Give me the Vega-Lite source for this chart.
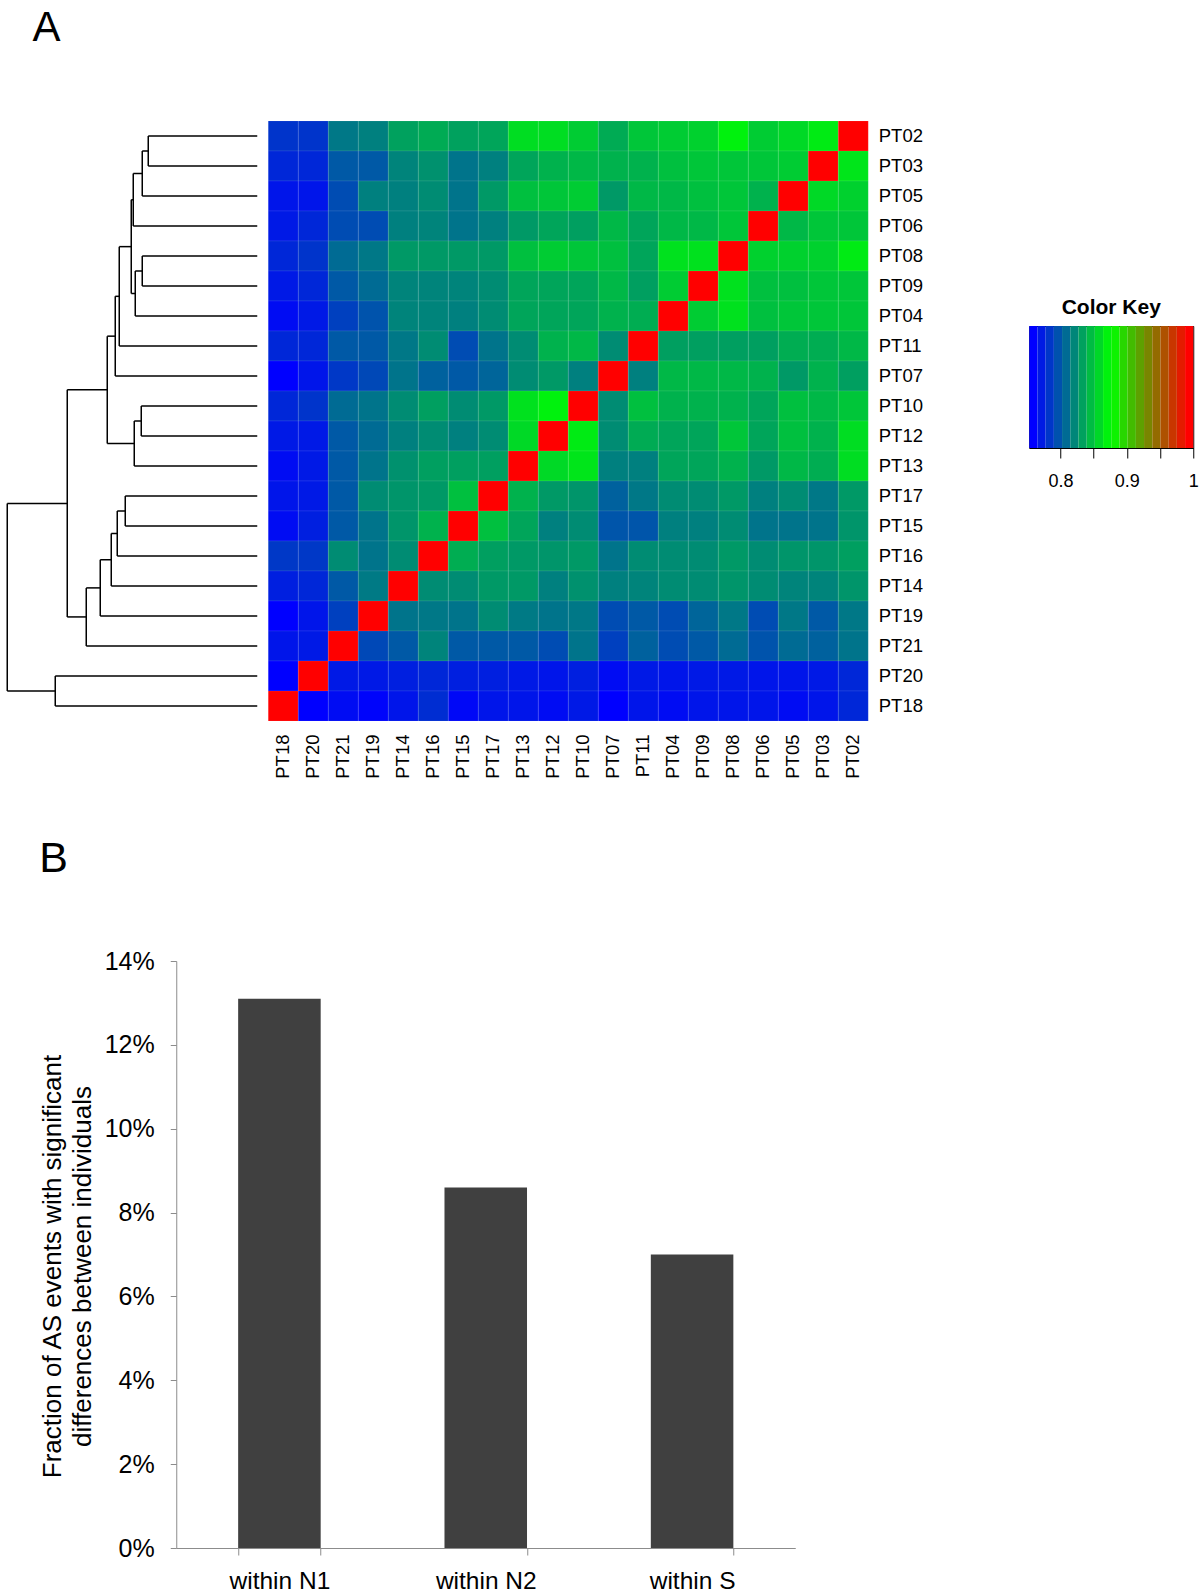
{
"$schema":"https://vega.github.io/schema/vega-lite/v6.json",
"padding":{"left":6.25,"top":6,"right":0,"bottom":0},
"background":"white",
"config":{"view":{"stroke":null},"font":"Liberation Sans","title":{"color":"black"},"axis":{"labelColor":"black","domainColor":"black","tickColor":"black","titleColor":"black"}},
"columns":1,
"align":"none",
"spacing":59,
"concat":[
{
"title":{"text":"A","anchor":"start","frame":"bounds","fontSize":42,"fontWeight":"normal","baseline":"top","offset":71,"dx":26},
"columns":2,
"align":"none",
"spacing":105,
"concat":[
{"columns":2,"align":"none","spacing":9,"concat":[
{
"width":81,"height":600,
"data":{"values":[
{"h1":109,"h2":109,"p1":0,"p2":1},{"h1":109,"h2":0,"p1":0,"p2":0},{"h1":109,"h2":0,"p1":1,"p2":1},
{"h1":115,"h2":115,"p1":0.5,"p2":2},{"h1":115,"h2":109,"p1":0.5,"p2":0.5},{"h1":115,"h2":0,"p1":2,"p2":2},
{"h1":124,"h2":124,"p1":1.25,"p2":3},{"h1":124,"h2":115,"p1":1.25,"p2":1.25},{"h1":124,"h2":0,"p1":3,"p2":3},
{"h1":115,"h2":115,"p1":4,"p2":5},{"h1":115,"h2":0,"p1":4,"p2":4},{"h1":115,"h2":0,"p1":5,"p2":5},
{"h1":122,"h2":122,"p1":4.5,"p2":6},{"h1":122,"h2":115,"p1":4.5,"p2":4.5},{"h1":122,"h2":0,"p1":6,"p2":6},
{"h1":126,"h2":126,"p1":2.125,"p2":5.25},{"h1":126,"h2":124,"p1":2.125,"p2":2.125},{"h1":126,"h2":122,"p1":5.25,"p2":5.25},
{"h1":138,"h2":138,"p1":3.688,"p2":7},{"h1":138,"h2":126,"p1":3.688,"p2":3.688},{"h1":138,"h2":0,"p1":7,"p2":7},
{"h1":142,"h2":142,"p1":5.344,"p2":8},{"h1":142,"h2":138,"p1":5.344,"p2":5.344},{"h1":142,"h2":0,"p1":8,"p2":8},
{"h1":116,"h2":116,"p1":9,"p2":10},{"h1":116,"h2":0,"p1":9,"p2":9},{"h1":116,"h2":0,"p1":10,"p2":10},
{"h1":123,"h2":123,"p1":9.5,"p2":11},{"h1":123,"h2":116,"p1":9.5,"p2":9.5},{"h1":123,"h2":0,"p1":11,"p2":11},
{"h1":150,"h2":150,"p1":6.672,"p2":10.25},{"h1":150,"h2":142,"p1":6.672,"p2":6.672},{"h1":150,"h2":123,"p1":10.25,"p2":10.25},
{"h1":132,"h2":132,"p1":12,"p2":13},{"h1":132,"h2":0,"p1":12,"p2":12},{"h1":132,"h2":0,"p1":13,"p2":13},
{"h1":140,"h2":140,"p1":12.5,"p2":14},{"h1":140,"h2":132,"p1":12.5,"p2":12.5},{"h1":140,"h2":0,"p1":14,"p2":14},
{"h1":146,"h2":146,"p1":13.25,"p2":15},{"h1":146,"h2":140,"p1":13.25,"p2":13.25},{"h1":146,"h2":0,"p1":15,"p2":15},
{"h1":157,"h2":157,"p1":14.125,"p2":16},{"h1":157,"h2":146,"p1":14.125,"p2":14.125},{"h1":157,"h2":0,"p1":16,"p2":16},
{"h1":171,"h2":171,"p1":15.063,"p2":17},{"h1":171,"h2":157,"p1":15.063,"p2":15.063},{"h1":171,"h2":0,"p1":17,"p2":17},
{"h1":190,"h2":190,"p1":8.461,"p2":16.031},{"h1":190,"h2":150,"p1":8.461,"p2":8.461},{"h1":190,"h2":171,"p1":16.031,"p2":16.031},
{"h1":202,"h2":202,"p1":18,"p2":19},{"h1":202,"h2":0,"p1":18,"p2":18},{"h1":202,"h2":0,"p1":19,"p2":19},
{"h1":250,"h2":250,"p1":12.246,"p2":18.5},{"h1":250,"h2":190,"p1":12.246,"p2":12.246},{"h1":250,"h2":202,"p1":18.5,"p2":18.5}
]},
"mark":{"type":"rule","color":"black","strokeWidth":1.5,"clip":false},
"encoding":{
"x":{"field":"h1","type":"quantitative","scale":{"domain":[0,81],"reverse":true,"nice":false,"zero":false},"axis":null},
"x2":{"field":"h2"},
"y":{"field":"p1","type":"quantitative","scale":{"domain":[-0.5,19.5],"reverse":true,"nice":false,"zero":false},"axis":null},
"y2":{"field":"p2"}
}
},
{
"width":600,"height":600,
"data":{"values":[
{"r":"PT02","c":"PT18","v":0.778},{"r":"PT02","c":"PT20","v":0.778},{"r":"PT02","c":"PT21","v":0.811},{"r":"PT02","c":"PT19","v":0.815},{"r":"PT02","c":"PT14","v":0.831},{"r":"PT02","c":"PT16","v":0.836},{"r":"PT02","c":"PT15","v":0.831},{"r":"PT02","c":"PT17","v":0.833},{"r":"PT02","c":"PT13","v":0.860},{"r":"PT02","c":"PT12","v":0.860},{"r":"PT02","c":"PT10","v":0.852},{"r":"PT02","c":"PT07","v":0.836},{"r":"PT02","c":"PT11","v":0.849},{"r":"PT02","c":"PT04","v":0.852},{"r":"PT02","c":"PT09","v":0.854},{"r":"PT02","c":"PT08","v":0.870},{"r":"PT02","c":"PT06","v":0.852},{"r":"PT02","c":"PT05","v":0.858},{"r":"PT02","c":"PT03","v":0.867},{"r":"PT02","c":"PT02","v":1},
{"r":"PT03","c":"PT18","v":0.772},{"r":"PT03","c":"PT20","v":0.772},{"r":"PT03","c":"PT21","v":0.796},{"r":"PT03","c":"PT19","v":0.796},{"r":"PT03","c":"PT14","v":0.817},{"r":"PT03","c":"PT16","v":0.823},{"r":"PT03","c":"PT15","v":0.809},{"r":"PT03","c":"PT17","v":0.815},{"r":"PT03","c":"PT13","v":0.833},{"r":"PT03","c":"PT12","v":0.839},{"r":"PT03","c":"PT10","v":0.842},{"r":"PT03","c":"PT07","v":0.839},{"r":"PT03","c":"PT11","v":0.839},{"r":"PT03","c":"PT04","v":0.846},{"r":"PT03","c":"PT09","v":0.849},{"r":"PT03","c":"PT08","v":0.849},{"r":"PT03","c":"PT06","v":0.849},{"r":"PT03","c":"PT05","v":0.852},{"r":"PT03","c":"PT03","v":1},{"r":"PT03","c":"PT02","v":0.864},
{"r":"PT05","c":"PT18","v":0.763},{"r":"PT05","c":"PT20","v":0.763},{"r":"PT05","c":"PT21","v":0.790},{"r":"PT05","c":"PT19","v":0.815},{"r":"PT05","c":"PT14","v":0.815},{"r":"PT05","c":"PT16","v":0.821},{"r":"PT05","c":"PT15","v":0.809},{"r":"PT05","c":"PT17","v":0.827},{"r":"PT05","c":"PT13","v":0.846},{"r":"PT05","c":"PT12","v":0.849},{"r":"PT05","c":"PT10","v":0.852},{"r":"PT05","c":"PT07","v":0.827},{"r":"PT05","c":"PT11","v":0.842},{"r":"PT05","c":"PT04","v":0.842},{"r":"PT05","c":"PT09","v":0.846},{"r":"PT05","c":"PT08","v":0.849},{"r":"PT05","c":"PT06","v":0.839},{"r":"PT05","c":"PT05","v":1},{"r":"PT05","c":"PT03","v":0.858},{"r":"PT05","c":"PT02","v":0.854},
{"r":"PT06","c":"PT18","v":0.765},{"r":"PT06","c":"PT20","v":0.772},{"r":"PT06","c":"PT21","v":0.790},{"r":"PT06","c":"PT19","v":0.790},{"r":"PT06","c":"PT14","v":0.815},{"r":"PT06","c":"PT16","v":0.817},{"r":"PT06","c":"PT15","v":0.809},{"r":"PT06","c":"PT17","v":0.815},{"r":"PT06","c":"PT13","v":0.827},{"r":"PT06","c":"PT12","v":0.833},{"r":"PT06","c":"PT10","v":0.830},{"r":"PT06","c":"PT07","v":0.842},{"r":"PT06","c":"PT11","v":0.833},{"r":"PT06","c":"PT04","v":0.842},{"r":"PT06","c":"PT09","v":0.842},{"r":"PT06","c":"PT08","v":0.849},{"r":"PT06","c":"PT06","v":1},{"r":"PT06","c":"PT05","v":0.842},{"r":"PT06","c":"PT03","v":0.849},{"r":"PT06","c":"PT02","v":0.849},
{"r":"PT08","c":"PT18","v":0.772},{"r":"PT08","c":"PT20","v":0.778},{"r":"PT08","c":"PT21","v":0.805},{"r":"PT08","c":"PT19","v":0.811},{"r":"PT08","c":"PT14","v":0.827},{"r":"PT08","c":"PT16","v":0.827},{"r":"PT08","c":"PT15","v":0.827},{"r":"PT08","c":"PT17","v":0.827},{"r":"PT08","c":"PT13","v":0.846},{"r":"PT08","c":"PT12","v":0.852},{"r":"PT08","c":"PT10","v":0.849},{"r":"PT08","c":"PT07","v":0.846},{"r":"PT08","c":"PT11","v":0.833},{"r":"PT08","c":"PT04","v":0.862},{"r":"PT08","c":"PT09","v":0.862},{"r":"PT08","c":"PT08","v":1},{"r":"PT08","c":"PT06","v":0.854},{"r":"PT08","c":"PT05","v":0.854},{"r":"PT08","c":"PT03","v":0.854},{"r":"PT08","c":"PT02","v":0.867},
{"r":"PT09","c":"PT18","v":0.765},{"r":"PT09","c":"PT20","v":0.772},{"r":"PT09","c":"PT21","v":0.796},{"r":"PT09","c":"PT19","v":0.805},{"r":"PT09","c":"PT14","v":0.817},{"r":"PT09","c":"PT16","v":0.817},{"r":"PT09","c":"PT15","v":0.817},{"r":"PT09","c":"PT17","v":0.821},{"r":"PT09","c":"PT13","v":0.833},{"r":"PT09","c":"PT12","v":0.833},{"r":"PT09","c":"PT10","v":0.833},{"r":"PT09","c":"PT07","v":0.842},{"r":"PT09","c":"PT11","v":0.830},{"r":"PT09","c":"PT04","v":0.852},{"r":"PT09","c":"PT09","v":1},{"r":"PT09","c":"PT08","v":0.862},{"r":"PT09","c":"PT06","v":0.846},{"r":"PT09","c":"PT05","v":0.846},{"r":"PT09","c":"PT03","v":0.849},{"r":"PT09","c":"PT02","v":0.849},
{"r":"PT04","c":"PT18","v":0.759},{"r":"PT04","c":"PT20","v":0.765},{"r":"PT04","c":"PT21","v":0.784},{"r":"PT04","c":"PT19","v":0.793},{"r":"PT04","c":"PT14","v":0.817},{"r":"PT04","c":"PT16","v":0.817},{"r":"PT04","c":"PT15","v":0.815},{"r":"PT04","c":"PT17","v":0.821},{"r":"PT04","c":"PT13","v":0.833},{"r":"PT04","c":"PT12","v":0.833},{"r":"PT04","c":"PT10","v":0.833},{"r":"PT04","c":"PT07","v":0.839},{"r":"PT04","c":"PT11","v":0.837},{"r":"PT04","c":"PT04","v":1},{"r":"PT04","c":"PT09","v":0.852},{"r":"PT04","c":"PT08","v":0.862},{"r":"PT04","c":"PT06","v":0.846},{"r":"PT04","c":"PT05","v":0.849},{"r":"PT04","c":"PT03","v":0.849},{"r":"PT04","c":"PT02","v":0.849},
{"r":"PT11","c":"PT18","v":0.772},{"r":"PT11","c":"PT20","v":0.772},{"r":"PT11","c":"PT21","v":0.796},{"r":"PT11","c":"PT19","v":0.796},{"r":"PT11","c":"PT14","v":0.811},{"r":"PT11","c":"PT16","v":0.821},{"r":"PT11","c":"PT15","v":0.790},{"r":"PT11","c":"PT17","v":0.809},{"r":"PT11","c":"PT13","v":0.821},{"r":"PT11","c":"PT12","v":0.839},{"r":"PT11","c":"PT10","v":0.842},{"r":"PT11","c":"PT07","v":0.821},{"r":"PT11","c":"PT11","v":1},{"r":"PT11","c":"PT04","v":0.830},{"r":"PT11","c":"PT09","v":0.830},{"r":"PT11","c":"PT08","v":0.830},{"r":"PT11","c":"PT06","v":0.830},{"r":"PT11","c":"PT05","v":0.837},{"r":"PT11","c":"PT03","v":0.837},{"r":"PT11","c":"PT02","v":0.842},
{"r":"PT07","c":"PT18","v":0.753},{"r":"PT07","c":"PT20","v":0.763},{"r":"PT07","c":"PT21","v":0.780},{"r":"PT07","c":"PT19","v":0.788},{"r":"PT07","c":"PT14","v":0.809},{"r":"PT07","c":"PT16","v":0.800},{"r":"PT07","c":"PT15","v":0.796},{"r":"PT07","c":"PT17","v":0.802},{"r":"PT07","c":"PT13","v":0.821},{"r":"PT07","c":"PT12","v":0.827},{"r":"PT07","c":"PT10","v":0.815},{"r":"PT07","c":"PT07","v":1},{"r":"PT07","c":"PT11","v":0.815},{"r":"PT07","c":"PT04","v":0.842},{"r":"PT07","c":"PT09","v":0.842},{"r":"PT07","c":"PT08","v":0.842},{"r":"PT07","c":"PT06","v":0.839},{"r":"PT07","c":"PT05","v":0.827},{"r":"PT07","c":"PT03","v":0.839},{"r":"PT07","c":"PT02","v":0.830},
{"r":"PT10","c":"PT18","v":0.772},{"r":"PT10","c":"PT20","v":0.778},{"r":"PT10","c":"PT21","v":0.805},{"r":"PT10","c":"PT19","v":0.809},{"r":"PT10","c":"PT14","v":0.821},{"r":"PT10","c":"PT16","v":0.830},{"r":"PT10","c":"PT15","v":0.821},{"r":"PT10","c":"PT17","v":0.827},{"r":"PT10","c":"PT13","v":0.862},{"r":"PT10","c":"PT12","v":0.870},{"r":"PT10","c":"PT10","v":1},{"r":"PT10","c":"PT07","v":0.821},{"r":"PT10","c":"PT11","v":0.846},{"r":"PT10","c":"PT04","v":0.839},{"r":"PT10","c":"PT09","v":0.839},{"r":"PT10","c":"PT08","v":0.839},{"r":"PT10","c":"PT06","v":0.833},{"r":"PT10","c":"PT05","v":0.846},{"r":"PT10","c":"PT03","v":0.842},{"r":"PT10","c":"PT02","v":0.849},
{"r":"PT12","c":"PT18","v":0.765},{"r":"PT12","c":"PT20","v":0.765},{"r":"PT12","c":"PT21","v":0.796},{"r":"PT12","c":"PT19","v":0.805},{"r":"PT12","c":"PT14","v":0.815},{"r":"PT12","c":"PT16","v":0.821},{"r":"PT12","c":"PT15","v":0.815},{"r":"PT12","c":"PT17","v":0.821},{"r":"PT12","c":"PT13","v":0.858},{"r":"PT12","c":"PT12","v":1},{"r":"PT12","c":"PT10","v":0.867},{"r":"PT12","c":"PT07","v":0.821},{"r":"PT12","c":"PT11","v":0.836},{"r":"PT12","c":"PT04","v":0.833},{"r":"PT12","c":"PT09","v":0.833},{"r":"PT12","c":"PT08","v":0.849},{"r":"PT12","c":"PT06","v":0.833},{"r":"PT12","c":"PT05","v":0.846},{"r":"PT12","c":"PT03","v":0.839},{"r":"PT12","c":"PT02","v":0.860},
{"r":"PT13","c":"PT18","v":0.759},{"r":"PT13","c":"PT20","v":0.765},{"r":"PT13","c":"PT21","v":0.796},{"r":"PT13","c":"PT19","v":0.809},{"r":"PT13","c":"PT14","v":0.823},{"r":"PT13","c":"PT16","v":0.830},{"r":"PT13","c":"PT15","v":0.830},{"r":"PT13","c":"PT17","v":0.830},{"r":"PT13","c":"PT13","v":1},{"r":"PT13","c":"PT12","v":0.858},{"r":"PT13","c":"PT10","v":0.864},{"r":"PT13","c":"PT07","v":0.815},{"r":"PT13","c":"PT11","v":0.815},{"r":"PT13","c":"PT04","v":0.833},{"r":"PT13","c":"PT09","v":0.833},{"r":"PT13","c":"PT08","v":0.839},{"r":"PT13","c":"PT06","v":0.827},{"r":"PT13","c":"PT05","v":0.842},{"r":"PT13","c":"PT03","v":0.837},{"r":"PT13","c":"PT02","v":0.860},
{"r":"PT17","c":"PT18","v":0.763},{"r":"PT17","c":"PT20","v":0.765},{"r":"PT17","c":"PT21","v":0.796},{"r":"PT17","c":"PT19","v":0.821},{"r":"PT17","c":"PT14","v":0.825},{"r":"PT17","c":"PT16","v":0.827},{"r":"PT17","c":"PT15","v":0.846},{"r":"PT17","c":"PT17","v":1},{"r":"PT17","c":"PT13","v":0.839},{"r":"PT17","c":"PT12","v":0.827},{"r":"PT17","c":"PT10","v":0.825},{"r":"PT17","c":"PT07","v":0.800},{"r":"PT17","c":"PT11","v":0.811},{"r":"PT17","c":"PT04","v":0.821},{"r":"PT17","c":"PT09","v":0.821},{"r":"PT17","c":"PT08","v":0.827},{"r":"PT17","c":"PT06","v":0.815},{"r":"PT17","c":"PT05","v":0.821},{"r":"PT17","c":"PT03","v":0.811},{"r":"PT17","c":"PT02","v":0.827},
{"r":"PT15","c":"PT18","v":0.759},{"r":"PT15","c":"PT20","v":0.768},{"r":"PT15","c":"PT21","v":0.796},{"r":"PT15","c":"PT19","v":0.809},{"r":"PT15","c":"PT14","v":0.825},{"r":"PT15","c":"PT16","v":0.839},{"r":"PT15","c":"PT15","v":1},{"r":"PT15","c":"PT17","v":0.846},{"r":"PT15","c":"PT13","v":0.833},{"r":"PT15","c":"PT12","v":0.815},{"r":"PT15","c":"PT10","v":0.821},{"r":"PT15","c":"PT07","v":0.794},{"r":"PT15","c":"PT11","v":0.794},{"r":"PT15","c":"PT04","v":0.815},{"r":"PT15","c":"PT09","v":0.815},{"r":"PT15","c":"PT08","v":0.821},{"r":"PT15","c":"PT06","v":0.809},{"r":"PT15","c":"PT05","v":0.809},{"r":"PT15","c":"PT03","v":0.809},{"r":"PT15","c":"PT02","v":0.825},
{"r":"PT16","c":"PT18","v":0.780},{"r":"PT16","c":"PT20","v":0.780},{"r":"PT16","c":"PT21","v":0.821},{"r":"PT16","c":"PT19","v":0.809},{"r":"PT16","c":"PT14","v":0.821},{"r":"PT16","c":"PT16","v":1},{"r":"PT16","c":"PT15","v":0.837},{"r":"PT16","c":"PT17","v":0.830},{"r":"PT16","c":"PT13","v":0.827},{"r":"PT16","c":"PT12","v":0.825},{"r":"PT16","c":"PT10","v":0.827},{"r":"PT16","c":"PT07","v":0.809},{"r":"PT16","c":"PT11","v":0.821},{"r":"PT16","c":"PT04","v":0.821},{"r":"PT16","c":"PT09","v":0.821},{"r":"PT16","c":"PT08","v":0.827},{"r":"PT16","c":"PT06","v":0.821},{"r":"PT16","c":"PT05","v":0.825},{"r":"PT16","c":"PT03","v":0.825},{"r":"PT16","c":"PT02","v":0.830},
{"r":"PT14","c":"PT18","v":0.768},{"r":"PT14","c":"PT20","v":0.772},{"r":"PT14","c":"PT21","v":0.796},{"r":"PT14","c":"PT19","v":0.812},{"r":"PT14","c":"PT14","v":1},{"r":"PT14","c":"PT16","v":0.821},{"r":"PT14","c":"PT15","v":0.821},{"r":"PT14","c":"PT17","v":0.827},{"r":"PT14","c":"PT13","v":0.827},{"r":"PT14","c":"PT12","v":0.815},{"r":"PT14","c":"PT10","v":0.823},{"r":"PT14","c":"PT07","v":0.815},{"r":"PT14","c":"PT11","v":0.817},{"r":"PT14","c":"PT04","v":0.821},{"r":"PT14","c":"PT09","v":0.821},{"r":"PT14","c":"PT08","v":0.825},{"r":"PT14","c":"PT06","v":0.821},{"r":"PT14","c":"PT05","v":0.817},{"r":"PT14","c":"PT03","v":0.817},{"r":"PT14","c":"PT02","v":0.825},
{"r":"PT19","c":"PT18","v":0.753},{"r":"PT19","c":"PT20","v":0.763},{"r":"PT19","c":"PT21","v":0.784},{"r":"PT19","c":"PT19","v":1},{"r":"PT19","c":"PT14","v":0.809},{"r":"PT19","c":"PT16","v":0.811},{"r":"PT19","c":"PT15","v":0.809},{"r":"PT19","c":"PT17","v":0.821},{"r":"PT19","c":"PT13","v":0.812},{"r":"PT19","c":"PT12","v":0.809},{"r":"PT19","c":"PT10","v":0.811},{"r":"PT19","c":"PT07","v":0.790},{"r":"PT19","c":"PT11","v":0.796},{"r":"PT19","c":"PT04","v":0.790},{"r":"PT19","c":"PT09","v":0.802},{"r":"PT19","c":"PT08","v":0.811},{"r":"PT19","c":"PT06","v":0.790},{"r":"PT19","c":"PT05","v":0.811},{"r":"PT19","c":"PT03","v":0.796},{"r":"PT19","c":"PT02","v":0.811},
{"r":"PT21","c":"PT18","v":0.763},{"r":"PT21","c":"PT20","v":0.765},{"r":"PT21","c":"PT21","v":1},{"r":"PT21","c":"PT19","v":0.788},{"r":"PT21","c":"PT14","v":0.796},{"r":"PT21","c":"PT16","v":0.817},{"r":"PT21","c":"PT15","v":0.796},{"r":"PT21","c":"PT17","v":0.796},{"r":"PT21","c":"PT13","v":0.796},{"r":"PT21","c":"PT12","v":0.790},{"r":"PT21","c":"PT10","v":0.809},{"r":"PT21","c":"PT07","v":0.784},{"r":"PT21","c":"PT11","v":0.800},{"r":"PT21","c":"PT04","v":0.790},{"r":"PT21","c":"PT09","v":0.796},{"r":"PT21","c":"PT08","v":0.805},{"r":"PT21","c":"PT06","v":0.793},{"r":"PT21","c":"PT05","v":0.805},{"r":"PT21","c":"PT03","v":0.800},{"r":"PT21","c":"PT02","v":0.809},
{"r":"PT20","c":"PT18","v":0.753},{"r":"PT20","c":"PT20","v":1},{"r":"PT20","c":"PT21","v":0.765},{"r":"PT20","c":"PT19","v":0.765},{"r":"PT20","c":"PT14","v":0.768},{"r":"PT20","c":"PT16","v":0.772},{"r":"PT20","c":"PT15","v":0.768},{"r":"PT20","c":"PT17","v":0.768},{"r":"PT20","c":"PT13","v":0.765},{"r":"PT20","c":"PT12","v":0.763},{"r":"PT20","c":"PT10","v":0.768},{"r":"PT20","c":"PT07","v":0.759},{"r":"PT20","c":"PT11","v":0.765},{"r":"PT20","c":"PT04","v":0.763},{"r":"PT20","c":"PT09","v":0.765},{"r":"PT20","c":"PT08","v":0.765},{"r":"PT20","c":"PT06","v":0.763},{"r":"PT20","c":"PT05","v":0.763},{"r":"PT20","c":"PT03","v":0.765},{"r":"PT20","c":"PT02","v":0.772},
{"r":"PT18","c":"PT18","v":1},{"r":"PT18","c":"PT20","v":0.753},{"r":"PT18","c":"PT21","v":0.759},{"r":"PT18","c":"PT19","v":0.755},{"r":"PT18","c":"PT14","v":0.763},{"r":"PT18","c":"PT16","v":0.775},{"r":"PT18","c":"PT15","v":0.757},{"r":"PT18","c":"PT17","v":0.763},{"r":"PT18","c":"PT13","v":0.763},{"r":"PT18","c":"PT12","v":0.759},{"r":"PT18","c":"PT10","v":0.765},{"r":"PT18","c":"PT07","v":0.753},{"r":"PT18","c":"PT11","v":0.763},{"r":"PT18","c":"PT04","v":0.759},{"r":"PT18","c":"PT09","v":0.763},{"r":"PT18","c":"PT08","v":0.763},{"r":"PT18","c":"PT06","v":0.763},{"r":"PT18","c":"PT05","v":0.759},{"r":"PT18","c":"PT03","v":0.763},{"r":"PT18","c":"PT02","v":0.772}
]},
"mark":{"type":"rect","stroke":"white","strokeWidth":0.4,"strokeOpacity":0.2},
"encoding":{
"x":{"field":"c","type":"nominal","sort":["PT18","PT20","PT21","PT19","PT14","PT16","PT15","PT17","PT13","PT12","PT10","PT07","PT11","PT04","PT09","PT08","PT06","PT05","PT03","PT02"],"scale":{"paddingInner":0,"paddingOuter":0},"axis":{"orient":"bottom","title":null,"labelAngle":270,"labelFontSize":18.5,"labelPadding":13,"ticks":false,"tickSize":0,"domain":false}},
"y":{"field":"r","type":"nominal","sort":["PT02","PT03","PT05","PT06","PT08","PT09","PT04","PT11","PT07","PT10","PT12","PT13","PT17","PT15","PT16","PT14","PT19","PT21","PT20","PT18"],"scale":{"paddingInner":0,"paddingOuter":0},"axis":{"orient":"right","title":null,"labelFontSize":18.5,"labelPadding":10,"ticks":false,"tickSize":0,"domain":false}},
"color":{"field":"v","type":"quantitative","scale":{"domain":[0.753,0.8765,1],"range":["#0000ff","#00ff00","#ff0000"],"interpolate":"rgb"},"legend":null}
}
}
]},
{"spacing":0,"columns":1,"align":"none","concat":[
{"width":164,"height":175,"data":{"values":[]},"mark":"rect"},
{
"width":164,"height":122,
"view":{"stroke":"black","strokeWidth":1},
"title":{"text":"Color Key","fontSize":21,"fontWeight":"bold","anchor":"middle","baseline":"top","offset":8},
"data":{"values":[
{"lo":0.753,"hi":0.7654,"v":0.753},{"lo":0.7654,"hi":0.7777,"v":0.766},{"lo":0.7777,"hi":0.7901,"v":0.779},{"lo":0.7901,"hi":0.8024,"v":0.792},{"lo":0.8024,"hi":0.8148,"v":0.805},{"lo":0.8148,"hi":0.8271,"v":0.818},{"lo":0.8271,"hi":0.8395,"v":0.831},{"lo":0.8395,"hi":0.8518,"v":0.844},{"lo":0.8518,"hi":0.8642,"v":0.857},{"lo":0.8642,"hi":0.8765,"v":0.870},{"lo":0.8765,"hi":0.8889,"v":0.883},{"lo":0.8889,"hi":0.9012,"v":0.896},{"lo":0.9012,"hi":0.9136,"v":0.909},{"lo":0.9136,"hi":0.9259,"v":0.922},{"lo":0.9259,"hi":0.9383,"v":0.935},{"lo":0.9383,"hi":0.9506,"v":0.948},{"lo":0.9506,"hi":0.963,"v":0.961},{"lo":0.963,"hi":0.9753,"v":0.974},{"lo":0.9753,"hi":0.9877,"v":0.987},{"lo":0.9877,"hi":1.0,"v":1.0}
]},
"mark":"rect",
"encoding":{
"x":{"field":"lo","type":"quantitative","scale":{"domain":[0.753,1],"nice":false,"zero":false},"axis":{"values":[0.8,0.85,0.9,0.95,1],"format":".2~f","labelExpr":"datum.value == 0.85 || datum.value == 0.95 ? '' : datum.label","tickSize":10,"labelPadding":14,"labelFontSize":18,"labelFlush":false,"title":null,"grid":false}},
"x2":{"field":"hi"},
"color":{"field":"v","type":"quantitative","scale":{"domain":[0.753,0.8765,1],"range":["#0000ff","#00ff00","#ff0000"],"interpolate":"rgb"},"legend":null}
}
}
]}
]
},
{
"title":{"text":"B","anchor":"start","frame":"bounds","fontSize":43,"fontWeight":"normal","baseline":"top","offset":68,"dx":30},
"width":619,"height":587,
"data":{"values":[{"group":"within N1","fraction":0.131},{"group":"within N2","fraction":0.086},{"group":"within S","fraction":0.070}]},
"mark":{"type":"bar","color":"#404040"},
"encoding":{
"x":{"field":"group","type":"nominal","sort":null,"scale":{"paddingInner":0.6,"paddingOuter":0.3},"axis":{"title":null,"labelAngle":0,"tickBand":"extent","tickSize":7,"labelFontSize":24.5,"labelPadding":14,"domainColor":"#8c8c8c","tickColor":"#8c8c8c"}},
"y":{"field":"fraction","type":"quantitative","scale":{"domain":[0,0.14],"nice":false},"axis":{"values":[0,0.02,0.04,0.06,0.08,0.1,0.12,0.14],"format":".0%","grid":false,"tickSize":6,"labelPadding":16,"labelFontSize":25,"title":["","Fraction of AS events with significant","differences between individuals"],"titleFontSize":26,"titleFontWeight":"normal","titleLineHeight":30,"titlePadding":9,"titleY":305,"domainColor":"#8c8c8c","tickColor":"#8c8c8c"}}
}
}
]
}
